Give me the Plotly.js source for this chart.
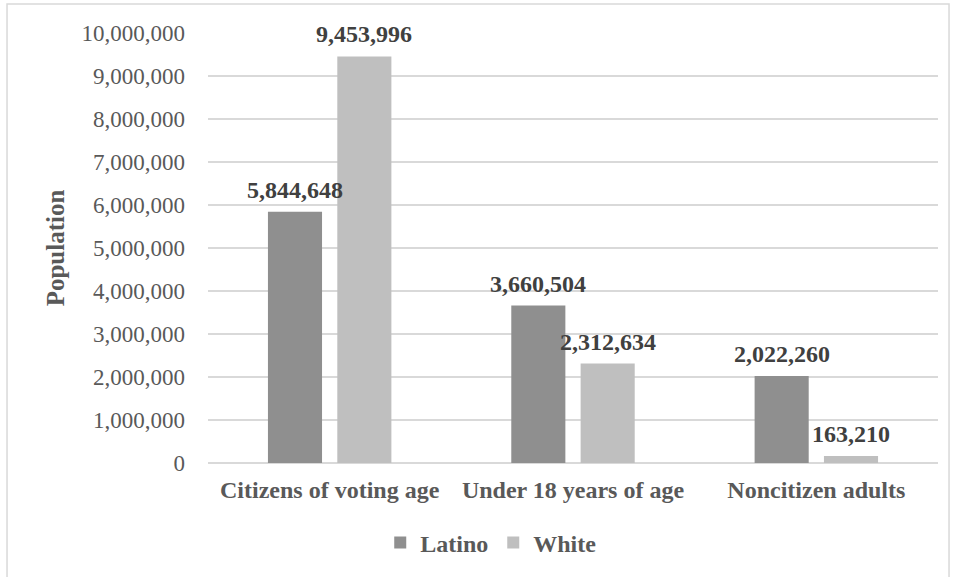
<!DOCTYPE html>
<html><head><meta charset="utf-8">
<script src="https://cdn.plot.ly/plotly-3.0.1.min.js"></script>
<style>html,body{margin:0;padding:0;background:#fff}#chart{width:956px;height:577px}</style>
</head><body><div id="chart"></div>
<script>
const categories = ["Citizens of voting age", "Under 18 years of age", "Noncitizen adults"];
const latino = [5844648, 3660504, 2022260];
const white = [9453996, 2312634, 163210];
const yTicks = [0,1000000,2000000,3000000,4000000,5000000,6000000,7000000,8000000,9000000,10000000];
const fmt = v => v.toLocaleString('en-US');
const FONT = '"Liberation Serif", "Times New Roman", serif';
const BARGAP = 0.43;

const traces = [
  {type:'bar', name:'Latino', x:categories, y:latino, marker:{color:'#8f8f8f'}, hoverinfo:'none'},
  {type:'bar', name:'White', x:categories, y:white, marker:{color:'#bfbfbf'}, hoverinfo:'none'}
];

// data labels placed over each bar of the group
const off = (1 - BARGAP) / 4;
const annotations = [];
[latino, white].forEach((series, si) => {
  series.forEach((v, i) => {
    annotations.push({xref:'x', yref:'y', x: i + (si === 0 ? -off : off), y: v,
      text: fmt(v), showarrow:false, yanchor:'bottom', xanchor:'center', yshift:7,
      font:{family:FONT, size:24, color:'#404040', weight:'bold'}});
  });
});

const layout = {
  width:956, height:577,
  margin:{l:208, r:18, t:33, b:114},
  paper_bgcolor:'#ffffff', plot_bgcolor:'#ffffff',
  font:{family:FONT, color:'#595959'},
  barmode:'group', bargap:BARGAP, bargroupgap:0.22,
  showlegend:true,
  legend:{orientation:'h', x:0.388, xanchor:'center', y:-0.186, yanchor:'middle', bgcolor:'rgba(0,0,0,0)',
          font:{family:FONT, size:24, color:'#595959', weight:'bold'}, itemwidth:30, traceorder:'normal'},
  xaxis:{type:'category', showgrid:false, showline:false, zeroline:false, ticks:'', ticklabelstandoff:10,
         tickfont:{family:FONT, size:24, color:'#595959', weight:'bold'}, automargin:false},
  yaxis:{range:[0,10000000], tickvals:yTicks, ticktext:yTicks.map(fmt),
         showgrid:true, gridcolor:'#d9d9d9', gridwidth:1.5, zeroline:true, zerolinecolor:'#d9d9d9', zerolinewidth:1.5,
         showline:false, ticks:'', ticklabelstandoff:22,
         tickfont:{family:FONT, size:23, color:'#595959'}, automargin:false,
         title:{text:'Population', standoff:9, font:{family:FONT, size:25, color:'#595959', weight:'bold'}}},
  annotations: annotations,
  shapes:[{type:'rect', xref:'paper', yref:'paper', x0:-0.2753, x1:1.0151, y0:-0.3, y1:1.0674,
           line:{color:'#d9d9d9', width:1.5}, fillcolor:'rgba(0,0,0,0)', layer:'below'}]
};

Plotly.newPlot('chart', traces, layout, {displayModeBar:false, staticPlot:true});
</script></body></html>
